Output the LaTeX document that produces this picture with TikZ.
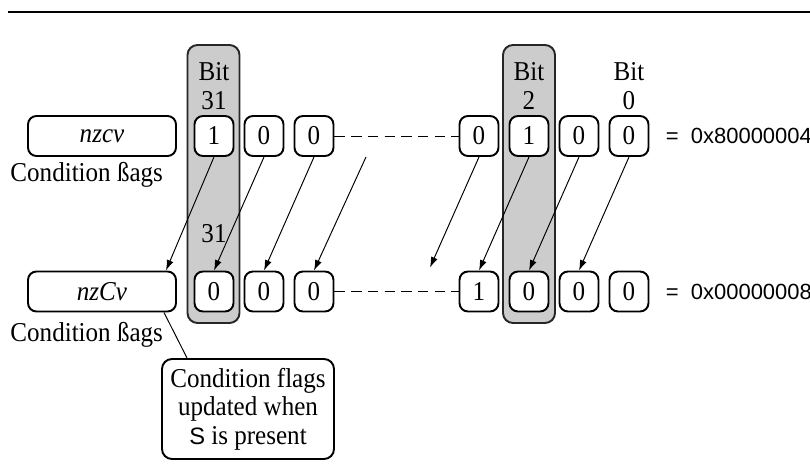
\documentclass[tikz,border=0pt]{standalone}
\usepackage{fontspec}
\setmainfont{Liberation Serif}[FakeStretch=0.92]
\setsansfont{Liberation Sans}
\usetikzlibrary{arrows.meta,calc,positioning}
\tikzstyle{bitbox} = [rectangle,rounded corners=0.17cm,minimum width=0.78cm,minimum height=0.8cm,draw=black,line width=1.1pt,fill=white,font=\fontsize{15.5}{18}\selectfont]
\tikzstyle{flagbox} = [bitbox,minimum width=2.96cm,font=\fontsize{15.5}{18}\selectfont\itshape]
\tikzstyle{column} = [rectangle,rounded corners=0.2cm,minimum width=1.04cm,minimum height=5.56cm,draw=black!85,line width=1.1pt,fill=gray!40]
\tikzstyle{bitlabel} = [align=center,inner sep=0pt,font=\fontsize{15.5}{16.5}\selectfont]
\tikzstyle{hexval} = [font=\sffamily\fontsize{12.5}{15}\selectfont]
\tikzstyle{note} = [rectangle,rounded corners=0.2cm,minimum width=3.44cm,minimum height=2cm,align=center,draw=black,line width=1.1pt,fill=white,font=\fontsize{15.5}{16.3}\selectfont]

\begin{document}
\begin{tikzpicture}[->,>={Latex[length=6pt,width=4pt]},line width=0.55pt,node distance=1cm]
\useasboundingbox (0,0) rectangle (16.2,-9.26);
\draw[-,line width=1.1pt] (0.16,-0.24) -- (16.2,-0.24);

\node (col31) [column] at (4.27,-3.68) {};
\node (col2) [column] at (10.58,-3.68) {};

% before the shift
\node (flags1) [flagbox] at (2.04,-2.72) {nzcv};
\node (t31) [bitbox] at (4.28,-2.72) {1};
\node (t30) [bitbox,right of=t31] {0};
\node (t29) [bitbox,right of=t30] {0};
\node (t3) [bitbox,right of=t29,xshift=2.3cm] {0};
\node (t2) [bitbox,right of=t3] {1};
\node (t1) [bitbox,right of=t2] {0};
\node (t0) [bitbox,right of=t1] {0};

% after the shift
\node (flags2) [flagbox,below of=flags1,node distance=3.11cm] {nzCv};
\node (b31) [bitbox,below of=t31,node distance=3.11cm] {0};
\node (b30) [bitbox,right of=b31] {0};
\node (b29) [bitbox,right of=b30] {0};
\node (b3) [bitbox,right of=b29,xshift=2.3cm] {1};
\node (b2) [bitbox,right of=b3] {0};
\node (b1) [bitbox,right of=b2] {0};
\node (b0) [bitbox,right of=b1] {0};

\node (bit31) [bitlabel,above of=t31,node distance=1cm] {Bit\\31};
\node (bit2) [bitlabel,above of=t2,node distance=1cm] {Bit\\2};
\node (bit0) [bitlabel,above of=t0,node distance=1cm] {Bit\\0};
\node (bit31b) [bitlabel,above of=b31,node distance=1.15cm] {31};

\node (cond1) [bitlabel,anchor=west] at (0.2,-3.5) {Condition ßags};
\node (cond2) [bitlabel,anchor=west] at (0.2,-6.7) {Condition ßags};

\node (hex1) [hexval,right=0.2cm of t0] {=\hspace{7pt}0x80000004};
\node (hex2) [hexval,right=0.2cm of b0] {=\hspace{7pt}0x00000008};

\node (note) [note] at (4.96,-8.18) {Condition flags\\updated when\\{\sffamily\fontsize{13.5}{16.3}\selectfont S} is present};

\draw[-,dash pattern=on 6pt off 3.5pt] (t29) -- (t3);
\draw[-,dash pattern=on 6pt off 3.5pt] (b29) -- (b3);

\coordinate (gapT) at ($(t29.south)+(1.04,0)$);
\coordinate (gapB) at ($(b3.north)+(-0.98,0.06)$);

\draw (t31.south) -- ($(flags2.north east)+(-0.22,0)$);
\foreach \a/\b in {t30/b31,t29/b30,t2/b3,t1/b2,t0/b1}
{
  \draw (\a.south) -- (\b.north);
}
\draw (gapT) -- (b29.north);
\draw (t3.south) -- (gapB);
\draw[-] ($(flags2.south east)+(-0.26,0)$) -- ($(note.north west)+(0.52,0)$);

\end{tikzpicture}
\end{document}
